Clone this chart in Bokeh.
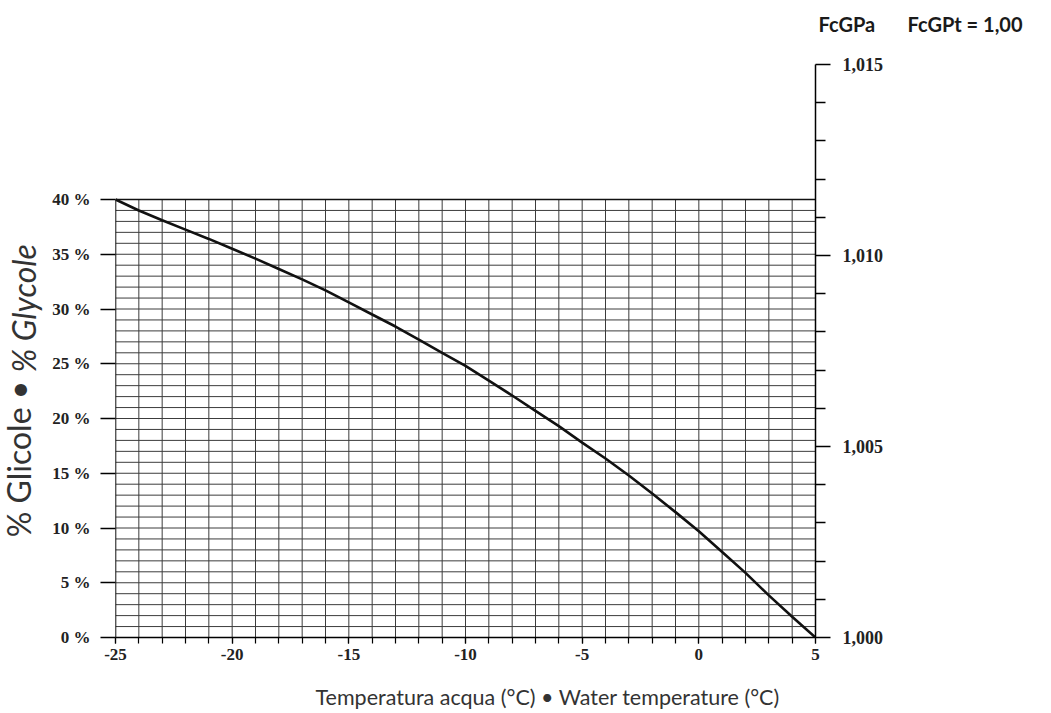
from bokeh.plotting import figure
from bokeh.models import (Range1d, LinearAxis, FixedTicker, CustomJSTickFormatter, Label)
from bokeh.embed import file_html
from bokeh.resources import INLINE

# ---- data ----
temperature = [-25, -24, -23, -22, -21, -20, -19, -18, -17, -16, -15, -14, -13, -12, -11, -10,
               -9, -8, -7, -6, -5, -4, -3, -2, -1, 0, 1, 2, 3, 4, 5]
glycol_pct = [40.0, 39.0, 38.1, 37.25, 36.4, 35.5, 34.6, 33.65, 32.7, 31.7, 30.6, 29.5, 28.4,
              27.2, 26.0, 24.8, 23.45, 22.1, 20.7, 19.3, 17.8, 16.35, 14.8, 13.15, 11.45, 9.7,
              7.8, 5.9, 3.85, 1.9, 0.0]

x_ticks = [-25, -20, -15, -10, -5, 0, 5]
x_grid = list(range(-25, 6))
y_ticks = [0, 5, 10, 15, 20, 25, 30, 35, 40]
y_grid = list(range(0, 41))
fc_ticks = [1.000, 1.005, 1.010, 1.015]
fc_minor = [1.001, 1.002, 1.003, 1.004, 1.006, 1.007, 1.008, 1.009, 1.011, 1.012, 1.013, 1.014]

x_title = "Temperatura acqua (°C) • Water temperature (°C)"
y_title_a = "% Glicole • "
y_title_b = "% Glycole"
fc_title = "FcGPa"
fc_note = "FcGPt = 1,00"

x_min, x_max = -25, 5
y_top_grid = 40
y_max = 40 * 573 / 438.0

p = figure(width=1051, height=713, output_backend="svg", toolbar_location=None,
           x_range=Range1d(x_min, x_max), y_range=Range1d(0, y_max),
           min_border_left=115, min_border_right=236, min_border_top=64, min_border_bottom=76,
           y_axis_location=None, x_axis_location=None)
p.outline_line_color = None
p.xgrid.visible = False
p.ygrid.visible = False
p.extra_y_ranges = {"fc": Range1d(1.000, 1.015)}

tick_font = "Liberation Serif"
tick_size = "17px"
tick_color = "#222222"

xa = LinearAxis(ticker=FixedTicker(ticks=x_ticks, minor_ticks=x_grid))
xa.formatter = CustomJSTickFormatter(code="return String(tick);")
xa.major_tick_out = 6
xa.major_tick_in = 0
xa.minor_tick_out = 6
xa.minor_tick_in = 0
xa.axis_line_width = 1.5
xa.major_tick_line_width = 1.2
xa.minor_tick_line_width = 1.2
xa.major_label_standoff = 5
xa.major_label_text_font = tick_font
xa.major_label_text_font_style = "bold"
xa.major_label_text_font_size = tick_size
xa.major_label_text_color = tick_color
p.add_layout(xa, "below")

ya = LinearAxis(ticker=FixedTicker(ticks=y_ticks, minor_ticks=[]))
ya.formatter = CustomJSTickFormatter(code="return tick + ' %';")
ya.axis_line_color = None
ya.major_tick_out = 15
ya.major_tick_in = 0
ya.major_tick_line_width = 1.6
ya.major_label_standoff = 10
ya.major_label_text_font = tick_font
ya.major_label_text_font_style = "bold"
ya.major_label_text_font_size = tick_size
ya.major_label_text_color = tick_color
p.add_layout(ya, "left")

ra = LinearAxis(y_range_name="fc", ticker=FixedTicker(ticks=fc_ticks, minor_ticks=fc_minor))
ra.formatter = CustomJSTickFormatter(code="return tick.toFixed(3).replace('.', ',');")
ra.axis_line_width = 1.5
ra.major_tick_out = 15
ra.major_tick_in = 0
ra.minor_tick_out = 10
ra.minor_tick_in = 0
ra.major_tick_line_width = 1.6
ra.minor_tick_line_width = 1.4
ra.major_label_standoff = 12
ra.major_label_text_font = tick_font
ra.major_label_text_font_style = "bold"
ra.major_label_text_font_size = "18px"
ra.major_label_text_color = tick_color
p.add_layout(ra, "right")

grid_color = "#3c3c3c"
p.segment(x0=x_grid, y0=[0] * len(x_grid), x1=x_grid, y1=[y_top_grid] * len(x_grid),
          line_color=grid_color, line_width=1)
p.segment(x0=[x_min] * len(y_grid), y0=y_grid, x1=[x_max] * len(y_grid), y1=y_grid,
          line_color=grid_color, line_width=1)
p.segment(x0=[x_min, x_min], y0=[0, y_top_grid], x1=[x_min, x_max], y1=[y_top_grid, y_top_grid],
          line_color="#111111", line_width=1.6)

p.line(temperature, glycol_pct, line_color="#111111", line_width=2.6)

title_font = "Lato"

# header texts (above panel; x from frame left, y up from panel bottom)
p.add_layout(Label(x=703, y=41, x_units="screen", y_units="screen", text=fc_title,
                   text_font=title_font, text_font_size="20px", text_font_style="bold",
                   text_color="#1a1a1a", text_align="left", text_baseline="middle"), "above")
p.add_layout(Label(x=792, y=17, x_units="screen", y_units="screen", text=fc_note,
                   text_font=title_font, text_font_size="20px", text_font_style="bold",
                   text_color="#1a1a1a", text_align="left", text_baseline="middle"), "above")

# bottom title (below panel)
p.add_layout(Label(x=200, y=-8, x_units="screen", y_units="screen", text=x_title,
                   text_font=title_font, text_font_size="21.5px", text_color="#333333",
                   text_align="left", text_baseline="middle"), "below")

# left title: first part in the left panel, italic part in the right panel
p.add_layout(Label(x=8, y=265, x_units="screen", y_units="screen", text=y_title_a,
                   angle=90, angle_units="deg", text_font=title_font, text_font_size="32px",
                   text_color="#333333", text_align="right", text_baseline="middle"), "left")
p.add_layout(Label(x=-863, y=265, x_units="screen", y_units="screen", text=y_title_b,
                   angle=90, angle_units="deg", text_font=title_font, text_font_size="32px",
                   text_font_style="italic", text_color="#333333",
                   text_align="left", text_baseline="middle"), "right")

open("out.html", "w").write(file_html(p, INLINE))
